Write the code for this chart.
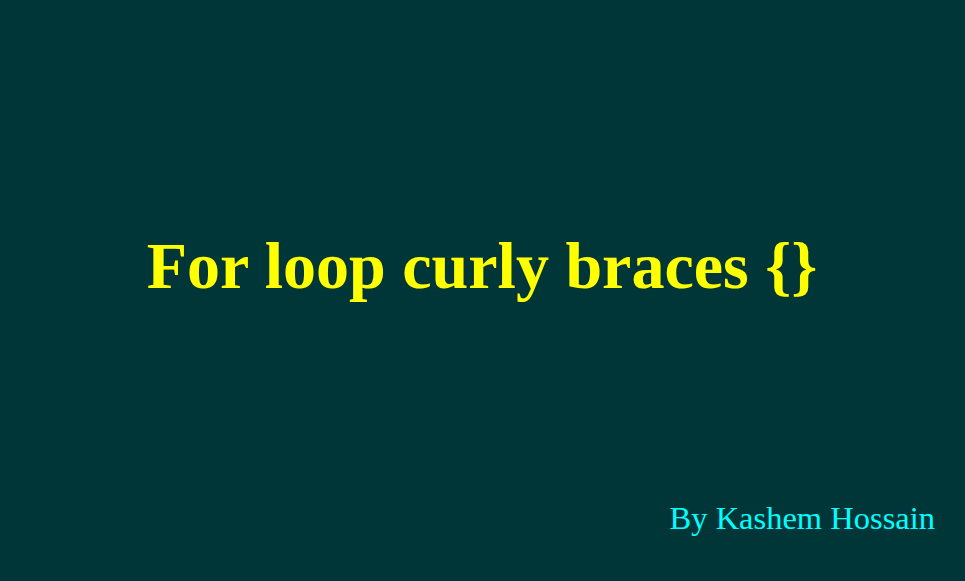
<!DOCTYPE html>
<html>
<head>
<meta charset="utf-8">
<script src="https://cdn.jsdelivr.net/npm/d3@7"></script>
<style>
  html, body { margin: 0; padding: 0; background: #003638; overflow: hidden; }
</style>
</head>
<body>
<div id="slide"></div>
<script>
const width = 965,
  height = 581;

// slide texts
const titles = ["For loop curly braces {}"];
const bylines = ["By Kashem Hossain"];

const svg = d3
  .select("#slide")
  .append("svg")
  .attr("width", width)
  .attr("height", height);

svg
  .append("rect")
  .attr("width", width)
  .attr("height", height)
  .attr("fill", "#003638");

svg
  .selectAll("text.title")
  .data(titles)
  .join("text")
  .attr("class", "title")
  .attr("x", 482)
  .attr("y", 288)
  .attr("text-anchor", "middle")
  .attr("fill", "#ffff00")
  .style("font-family", "'Liberation Serif', 'Times New Roman', serif")
  .style("font-weight", "bold")
  .style("font-size", "66px")
  .text((d) => d);

svg
  .selectAll("text.byline")
  .data(bylines)
  .join("text")
  .attr("class", "byline")
  .attr("x", 935)
  .attr("y", 529)
  .attr("text-anchor", "end")
  .attr("fill", "#00ffff")
  .style("font-family", "'Liberation Serif', 'Times New Roman', serif")
  .style("font-size", "32.5px")
  .text((d) => d);
</script>
</body>
</html>
